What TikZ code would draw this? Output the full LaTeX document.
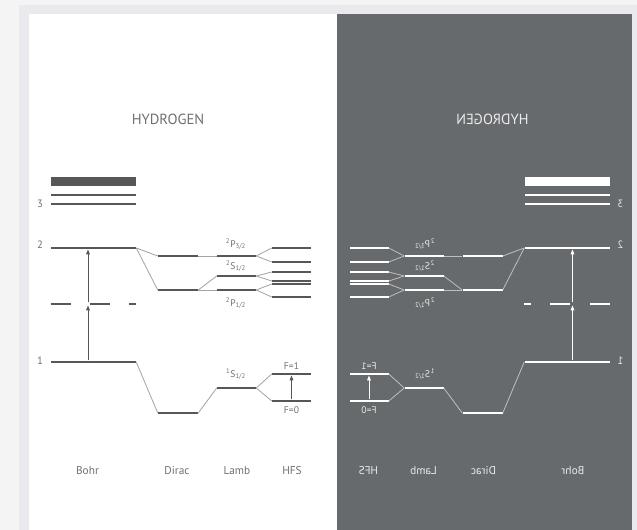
\documentclass[tikz,border=0pt]{standalone}
\usepackage{fontspec}
\setmainfont{PT Sans}
\usetikzlibrary{arrows.meta}

\definecolor{pagegrey}{RGB}{244,244,244}
\definecolor{rimgrey}{RGB}{233,233,238}
\definecolor{panelgrey}{RGB}{102,106,109}
\colorlet{lvcol}{black}
\colorlet{lkcol}{gray}
\colorlet{txcol}{gray}

\tikzset{
  lvl/.style={fill=lvcol, draw=none, inner sep=0pt, minimum height=1.9pt, minimum width=#1},
  lvl/.default=29.25pt,
  link/.style={draw=lkcol, line width=0.6pt},
  arr/.style={draw=lvcol, line width=0.6pt, -{Triangle[length=3.6pt,width=2.8pt,fill=lvcol]}},
  lbl/.style={text=txcol, inner sep=0.75pt, font=\fontsize{7.2}{8}\selectfont},
  num/.style={text=txcol, inner sep=0.75pt, font=\fontsize{8}{9}\selectfont},
  col/.style={text=txcol, inner sep=0.75pt, font=\fontsize{8.5}{9}\selectfont},
  ttl/.style={text=txcol, inner sep=0.75pt, font=\fontsize{11}{12}\selectfont},
}

% one half of the plate, drawn again mirrored
\newcommand{\hydrogenplate}{%
% Title
\node[ttl] (title) at (168,119) {HYDROGEN};
% Bohr levels
\node[lvl=63.75pt, minimum height=6.75pt] (bohrtop) at (93.5,182) {};
\node[lvl=63.75pt] (bohr3a) at (93.5,195) {};
\node[lvl=63.75pt] (bohr3b) at (93.5,204) {};
\node[lvl=63.75pt] (bohr2) at (93.5,248) {};
\node[lvl=63.75pt, fill=none] (bohrmid) at (93.5,304) {};
\node[lvl=63.75pt] (bohr1) at (93.5,362) {};
\draw[draw=lvcol, line width=1.9pt, dash pattern=on 15pt off 14.5pt] (bohrmid.west) -- (bohrmid.east);
\node[num] (num3) at (40,204) {3};
\node[num] (num2) at (40,245) {2};
\node[num] (num1) at (40,361) {1};
\coordinate (kick) at (88,0);
\draw[arr] (kick |- bohr1.north) -- (kick |- bohrmid.south);
\draw[arr] (kick |- bohrmid.north) -- (kick |- bohr2.south);
% Dirac levels
\node[lvl=30pt] (dirac2a) at (178,256) {};
\node[lvl=30pt] (dirac2b) at (178,290) {};
\node[lvl=30pt] (dirac1) at (178,413) {};
% Lamb levels
\node[lvl] (lambp3) at (236.5,256) {};
\node[lvl] (lambs) at (236.5,276) {};
\node[lvl] (lambp1) at (236.5,290) {};
\node[lvl] (lamb1) at (236.5,388) {};
% HFS levels
\node[lvl] (hfsa) at (291.5,248) {};
\node[lvl] (hfsb) at (291.5,262) {};
\node[lvl] (hfsc) at (291.5,272) {};
\node[lvl] (hfsd) at (291.5,281) {};
\node[lvl] (hfse) at (291.5,284) {};
\node[lvl] (hfsf) at (291.5,297) {};
\node[lvl] (hfsone) at (291.5,374) {};
\node[lvl] (hfszero) at (291.5,401) {};
% connectors
\draw[link] (bohr2.east) -- (dirac2a.west);
\draw[link] (bohr2.east) -- (dirac2b.west);
\draw[link] (bohr1.east) -- (dirac1.west);
\draw[link] (dirac2a.east) -- (lambp3.west);
\draw[link] (dirac2b.east) -- (lambs.west);
\draw[link] (dirac2b.east) -- (lambp1.west);
\draw[link] (dirac1.east) -- (lamb1.west);
\foreach \a/\b in {lambp3/hfsa, lambp3/hfsb, lambs/hfsc, lambs/hfsd, lambp1/hfse, lambp1/hfsf, lamb1/hfsone, lamb1/hfszero}
  \draw[link] (\a.east) -- (\b.west);
\draw[arr] (hfszero.north) -- (hfsone.south);
% term labels
\node[lbl] (tp3) at (236,244) {\textsuperscript{2}P\textsubscript{3/2}};
\node[lbl] (ts) at (236,266) {\textsuperscript{2}S\textsubscript{1/2}};
\node[lbl] (tp1) at (236,303) {\textsuperscript{2}P\textsubscript{1/2}};
\node[lbl] (tg) at (236,374) {\textsuperscript{1}S\textsubscript{1/2}};
\node[lbl] (tf1) at (291.5,366) {F=1};
\node[lbl] (tf0) at (291.5,410) {F=0};
% column names
\node[col] (cbohr) at (87.5,471) {Bohr};
\node[col] (cdirac) at (177,471) {Dirac};
\node[col] (clamb) at (237,471) {Lamb};
\node[col] (chfs) at (292,471) {HFS};
}

\begin{document}
\begin{tikzpicture}[x=0.75pt,y=0.75pt,yscale=-1]
\useasboundingbox (0,0) rectangle (637,530);

% frame
\fill[pagegrey] (0,0) rectangle (637,530);
\fill[rimgrey] (19,5) rectangle (637,530);
\fill[white] (29,14) rectangle (337,530);
\fill[panelgrey] (337,14) rectangle (632,530);

% white plate
\begin{scope}
\colorlet{lvcol}{black!66}
\colorlet{lkcol}{black!36}
\colorlet{txcol}{black!56}
\hydrogenplate
\end{scope}

% dark plate, mirrored
\begin{scope}[shift={(660.5,0)}, xscale=-1, every node/.append style={xscale=-1}]
\colorlet{lvcol}{white}
\colorlet{lkcol}{black!25}
\colorlet{txcol}{black!8}
\hydrogenplate
\end{scope}
\end{tikzpicture}
\end{document}
